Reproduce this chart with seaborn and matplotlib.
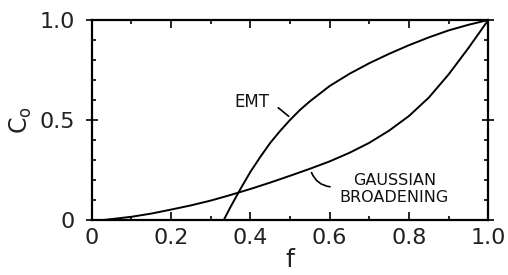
import matplotlib
matplotlib.use("Agg")
import matplotlib.pyplot as plt
import seaborn as sns
import pandas as pd
from matplotlib.ticker import MultipleLocator

# Data
emt_f = [0.333, 0.35, 0.375, 0.40, 0.425, 0.45, 0.475, 0.50, 0.525, 0.55,
         0.60, 0.65, 0.70, 0.75, 0.80, 0.85, 0.90, 0.95, 1.0]
emt_c = [0.0, 0.065, 0.155, 0.24, 0.315, 0.385, 0.445, 0.50, 0.55, 0.593,
         0.670, 0.731, 0.784, 0.831, 0.874, 0.913, 0.948, 0.976, 1.0]
gauss_f = [0.03, 0.10, 0.15, 0.20, 0.25, 0.30, 0.35, 0.40, 0.45, 0.50, 0.55,
           0.60, 0.65, 0.70, 0.75, 0.80, 0.85, 0.90, 0.95, 1.0]
gauss_c = [0.0, 0.016, 0.032, 0.052, 0.073, 0.097, 0.125, 0.155, 0.187, 0.221,
           0.256, 0.293, 0.336, 0.386, 0.447, 0.52, 0.612, 0.728, 0.86, 1.0]

x_ticks = [0, 0.2, 0.4, 0.6, 0.8, 1.0]
x_ticklabels = ["0", "0.2", "0.4", "0.6", "0.8", "1.0"]
y_ticks = [0, 0.5, 1.0]
y_ticklabels = ["0", "0.5", "1.0"]

sns.set_style("ticks")
plt.rcParams["font.family"] = ["DejaVu Sans"]

fig = plt.figure(figsize=(5.08, 2.75), dpi=100)
ax = fig.add_axes([0.1805, 0.2, 0.7807, 0.7273])

df_emt = pd.DataFrame({"f": emt_f, "C": emt_c})
df_g = pd.DataFrame({"f": gauss_f, "C": gauss_c})
sns.lineplot(data=df_emt, x="f", y="C", ax=ax, color="black", lw=1.4, sort=False)
sns.lineplot(data=df_g, x="f", y="C", ax=ax, color="black", lw=1.4, sort=False)

ax.set_xlim(0, 1)
ax.set_ylim(0, 1)
ax.set_xticks(x_ticks)
ax.set_xticklabels(x_ticklabels)
ax.set_yticks(y_ticks)
ax.set_yticklabels(y_ticklabels)
ax.xaxis.set_minor_locator(MultipleLocator(0.1))
ax.yaxis.set_minor_locator(MultipleLocator(0.1))

ax.tick_params(which="both", direction="in", top=True, right=True,
               color="black", width=1.2, labelsize=16, labelcolor="#222222")
ax.tick_params(which="major", length=6, pad=6)
ax.tick_params(which="minor", length=3)
ax.tick_params(axis="y", which="major", direction="inout", length=8, pad=8)

for s in ax.spines.values():
    s.set_linewidth(1.6)
    s.set_color("black")

ax.set_xlabel("f", fontsize=18, labelpad=0, color="#222222")
ax.set_ylabel(r"$\mathrm{C_o}$", fontsize=17, labelpad=4, color="#222222")

# Annotations
ax.text(0.404, 0.59, "EMT", fontsize=12, ha="center", va="center", color="#111111")
ax.annotate("", xy=(0.502, 0.51), xytext=(0.465, 0.57),
            arrowprops=dict(arrowstyle="-", color="black", lw=1.2))
ax.text(0.763, 0.155, "GAUSSIAN\nBROADENING", fontsize=11.5, ha="center",
        va="center", linespacing=1.15, color="#111111")
ax.annotate("", xy=(0.552, 0.25), xytext=(0.608, 0.165),
            arrowprops=dict(arrowstyle="-", color="black", lw=1.2,
                            connectionstyle="arc3,rad=-0.35"))

fig.savefig("out.png", dpi=100)
